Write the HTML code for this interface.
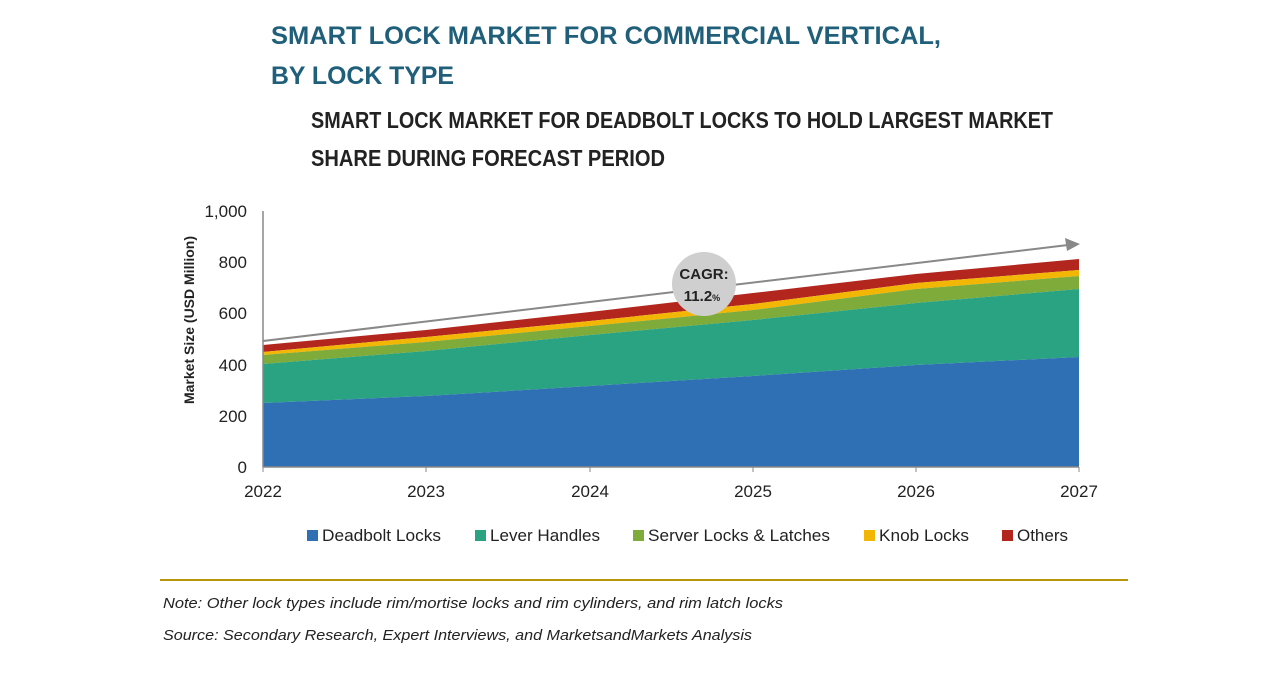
<!DOCTYPE html>
<html><head><meta charset="utf-8"><style>
body{margin:0;background:#fff;width:1280px;height:670px;overflow:hidden;font-family:"Liberation Sans",Arial,sans-serif;}
</style></head><body>
<svg width="1280" height="670" xmlns="http://www.w3.org/2000/svg" font-family="Liberation Sans, Arial, sans-serif">
<text x="271" y="44" font-size="25" font-weight="bold" fill="#1f5f7a" textLength="670" lengthAdjust="spacingAndGlyphs">SMART LOCK MARKET FOR COMMERCIAL VERTICAL,</text>
<text x="271" y="84" font-size="25" font-weight="bold" fill="#1f5f7a" textLength="183" lengthAdjust="spacingAndGlyphs">BY LOCK TYPE</text>
<text x="311" y="128" font-size="23" font-weight="bold" fill="#222" textLength="742" lengthAdjust="spacingAndGlyphs">SMART LOCK MARKET FOR DEADBOLT LOCKS TO HOLD LARGEST MARKET</text>
<text x="311" y="166" font-size="23" font-weight="bold" fill="#222" textLength="354" lengthAdjust="spacingAndGlyphs">SHARE DURING FORECAST PERIOD</text>
<polygon fill="#b3261e" points="263,345 426,330 590,312 753,293 916,274 1079,259 1079,270 916,283 753,304 590,321 426,337 263,352"/>
<polygon fill="#f2b705" points="263,352 426,337 590,321 753,304 916,283 1079,270 1079,276 916,289 753,310 590,326 426,342 263,355"/>
<polygon fill="#7eab3a" points="263,355 426,342 590,326 753,310 916,289 1079,276 1079,289 916,303 753,320 590,335 426,351 263,364"/>
<polygon fill="#2aa383" points="263,364 426,351 590,335 753,320 916,303 1079,289 1079,357 916,365 753,376 590,386 426,396 263,403"/>
<polygon fill="#2f6fb3" points="263,403 426,396 590,386 753,376 916,365 1079,357 1079,467 263,467"/>
<line x1="263" y1="211" x2="263" y2="467" stroke="#888" stroke-width="1.5"/>
<line x1="263" y1="467" x2="1079" y2="467" stroke="#888" stroke-width="1.5"/>
<g stroke="#888"><line x1="426" y1="467" x2="426" y2="472"/><line x1="590" y1="467" x2="590" y2="472"/><line x1="753" y1="467" x2="753" y2="472"/><line x1="916" y1="467" x2="916" y2="472"/><line x1="1079" y1="467" x2="1079" y2="472"/><line x1="263" y1="467" x2="263" y2="472"/></g>
<g font-size="17" fill="#222" text-anchor="end">
<text x="247" y="217">1,000</text><text x="247" y="268">800</text><text x="247" y="319">600</text><text x="247" y="371">400</text><text x="247" y="422">200</text><text x="247" y="473">0</text></g>
<g font-size="17" fill="#222" text-anchor="middle">
<text x="263" y="497">2022</text><text x="426" y="497">2023</text><text x="590" y="497">2024</text><text x="753" y="497">2025</text><text x="916" y="497">2026</text><text x="1079" y="497">2027</text></g>
<text transform="translate(194,320) rotate(-90)" font-size="14" font-weight="bold" fill="#222" text-anchor="middle">Market Size (USD Million)</text>
<line x1="263" y1="341" x2="1068" y2="245" stroke="#888" stroke-width="2"/>
<polygon fill="#888" points="1080,244 1065,238 1067,251"/>
<ellipse cx="704" cy="284" rx="32" ry="32" fill="#cfcfcf"/>
<text x="704" y="279" font-size="15" font-weight="bold" fill="#222" text-anchor="middle">CAGR:</text>
<text x="702" y="301" font-size="15" font-weight="bold" fill="#222" text-anchor="middle">11.2<tspan font-size="9">%</tspan></text>
<g font-size="17" fill="#222">
<rect x="307" y="530" width="11" height="11" fill="#2f6fb3"/><text x="322" y="541" textLength="119" lengthAdjust="spacingAndGlyphs">Deadbolt Locks</text>
<rect x="475" y="530" width="11" height="11" fill="#2aa383"/><text x="490" y="541" textLength="110" lengthAdjust="spacingAndGlyphs">Lever Handles</text>
<rect x="633" y="530" width="11" height="11" fill="#7eab3a"/><text x="648" y="541" textLength="182" lengthAdjust="spacingAndGlyphs">Server Locks &amp; Latches</text>
<rect x="864" y="530" width="11" height="11" fill="#f2b705"/><text x="879" y="541" textLength="90" lengthAdjust="spacingAndGlyphs">Knob Locks</text>
<rect x="1002" y="530" width="11" height="11" fill="#b3261e"/><text x="1017" y="541" textLength="51" lengthAdjust="spacingAndGlyphs">Others</text></g>
<line x1="160" y1="580" x2="1128" y2="580" stroke="#b8960c" stroke-width="2"/>
<text x="163" y="608" font-size="15" font-style="italic" fill="#222" textLength="620" lengthAdjust="spacingAndGlyphs">Note: Other lock types include rim/mortise locks and rim cylinders, and rim latch locks</text>
<text x="163" y="640" font-size="15" font-style="italic" fill="#222" textLength="589" lengthAdjust="spacingAndGlyphs">Source: Secondary Research, Expert Interviews, and MarketsandMarkets Analysis</text>
</svg>
</body></html>
